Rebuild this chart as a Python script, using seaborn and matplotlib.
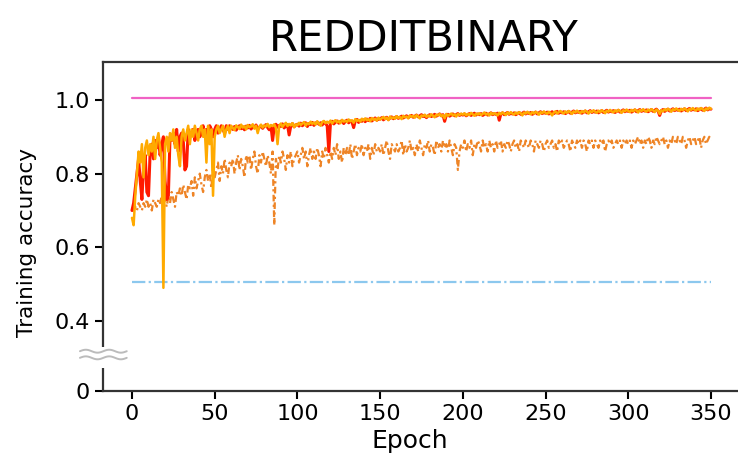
import numpy as np
import pandas as pd
import seaborn as sns
import matplotlib.pyplot as plt
from matplotlib.patches import Rectangle

# training accuracy per epoch
epochs = np.arange(351)

upper_bound = 1.005     # magenta reference line
random_baseline = 0.505  # light blue dash-dot line

acc_red = [
    .70, .72, .76, .80, .84, .78, .73, .82, .85, .75,
    .74, .86, .88, .84, .89, .87, .90, .85, .88, .90,
    .78, .73, .74, .90, .89, .91, .88, .92, .86, .90,
    .91, .89, .81, .82, .92, .90, .91, .92, .89, .91,
    .92, .90, .91, .93, .90, .92, .91, .93, .92, .90,
    .92, .93, .91, .92, .93, .92, .91, .93, .92, .93,
    .925, .920, .928, .918, .926, .930, .922, .927, .919, .929,
    .924, .931, .921, .928, .925, .932, .920, .926, .930, .923,
    .929, .933, .925, .919, .930, .890, .927, .934, .926, .931,
    .928, .935, .924, .930, .933, .905, .929, .936, .927, .932,
    .934, .929, .937, .930, .935, .938, .928, .936, .933, .939,
    .931, .937, .940, .934, .938, .932, .941, .936, .930, .860,
    .939, .942, .935, .940, .943, .937, .941, .944, .936, .942,
    .945, .938, .943, .940, .925, .944, .947, .939, .945, .942,
    .946, .941, .948, .944, .950, .943, .947, .951, .945, .949,
    .948, .952, .946, .950, .953, .947, .951, .954, .949, .952,
    .955, .950, .953, .956, .951, .954, .957, .952, .955, .958,
    .953, .956, .959, .954, .957, .960, .955, .958, .952, .957,
    .960, .955, .958, .961, .956, .959, .962, .957, .960, .942,
    .958, .961, .956, .959, .962, .957, .960, .963, .958, .961,
    .959, .962, .957, .960, .963, .958, .961, .964, .959, .962,
    .960, .963, .958, .961, .964, .959, .962, .965, .960, .963,
    .961, .964, .945, .962, .965, .960, .963, .966, .961, .964,
    .962, .965, .960, .963, .966, .961, .964, .967, .962, .965,
    .963, .966, .961, .964, .967, .962, .965, .968, .963, .966,
    .964, .967, .962, .965, .968, .963, .966, .969, .964, .967,
    .965, .968, .963, .966, .969, .964, .967, .970, .965, .968,
    .966, .969, .964, .967, .970, .965, .968, .971, .966, .969,
    .967, .970, .965, .968, .971, .966, .969, .972, .967, .970,
    .968, .971, .966, .969, .972, .967, .970, .973, .968, .971,
    .969, .972, .967, .970, .973, .968, .971, .974, .969, .972,
    .970, .973, .968, .971, .974, .969, .972, .975, .970, .958,
    .971, .974, .969, .972, .975, .970, .973, .976, .971, .974,
    .972, .975, .970, .973, .976, .971, .974, .977, .972, .975,
    .973, .976, .971, .974, .977, .972, .975, .978, .973, .976,
    .975,
]

acc_orange = [
    .68, .66, .74, .80, .86, .83, .88, .79, .87, .89,
    .85, .88, .86, .90, .84, .89, .91, .87, .83, .49,
    .88, .90, .86, .91, .89, .92, .87, .90, .85, .82,
    .90, .92, .89, .91, .93, .88, .92, .90, .93, .91,
    .89, .92, .93, .90, .92, .83, .93, .88, .92, .74,
    .90, .92, .93, .91, .92, .93, .90, .92, .93, .91,
    .930, .924, .918, .931, .927, .921, .933, .925, .929, .920,
    .932, .926, .928, .934, .922, .930, .910, .927, .933, .925,
    .931, .928, .935, .926, .932, .929, .934, .924, .880, .930,
    .936, .927, .933, .938, .929, .935, .931, .937, .926, .934,
    .931, .938, .932, .936, .940, .930, .937, .934, .941, .935,
    .939, .933, .942, .936, .930, .940, .943, .937, .941, .938,
    .944, .936, .942, .945, .939, .943, .937, .946, .941, .944,
    .940, .947, .942, .945, .938, .948, .943, .946, .941, .949,
    .944, .950, .945, .948, .942, .951, .946, .949, .944, .952,
    .947, .950, .954, .948, .952, .945, .955, .950, .953, .949,
    .956, .951, .954, .948, .957, .953, .955, .950, .958, .954,
    .957, .952, .959, .955, .950, .958, .956, .960, .954, .958,
    .955, .961, .957, .953, .960, .958, .962, .956, .959, .950,
    .962, .957, .960, .963, .958, .961, .955, .962, .959, .963,
    .960, .964, .958, .962, .959, .965, .961, .957, .963, .960,
    .964, .959, .962, .966, .960, .963, .958, .965, .961, .964,
    .962, .958, .965, .961, .966, .963, .959, .966, .962, .967,
    .963, .960, .966, .962, .967, .964, .958, .966, .963, .968,
    .964, .961, .967, .963, .968, .965, .960, .967, .964, .969,
    .965, .962, .968, .964, .958, .966, .969, .963, .967, .970,
    .966, .963, .969, .965, .970, .967, .962, .969, .966, .971,
    .967, .964, .970, .966, .971, .968, .963, .970, .967, .972,
    .968, .965, .971, .967, .972, .969, .964, .971, .968, .973,
    .969, .966, .972, .968, .973, .970, .965, .972, .969, .974,
    .970, .967, .973, .969, .974, .971, .966, .973, .970, .975,
    .971, .968, .974, .970, .975, .972, .967, .974, .971, .962,
    .972, .969, .975, .971, .976, .973, .968, .975, .972, .977,
    .973, .970, .976, .972, .977, .974, .969, .976, .973, .978,
    .974, .971, .977, .973, .978, .975, .970, .977, .974, .979,
    .976,
]

acc_dashed = [
    .70, .70, .71, .70, .72, .71, .70, .72, .71, .73,
    .71, .72, .70, .73, .72, .71, .73, .72, .74, .72,
    .73, .71, .74, .72, .75, .73, .71, .75, .74, .76,
    .74, .77, .75, .73, .77, .76, .78, .74, .79, .76,
    .78, .80, .77, .75, .79, .81, .78, .80, .76, .82,
    .79, .81, .83, .78, .82, .80, .84, .81, .79, .83,
    .82, .84, .80, .83, .85, .81, .84, .82, .79, .85,
    .83, .85, .81, .84, .86, .82, .80, .85, .83, .86,
    .84, .82, .85, .83, .80, .86, .66, .84, .81, .85,
    .83, .86, .84, .81, .85, .83, .86, .82, .84, .85,
    .86, .83, .85, .87, .84, .86, .82, .85, .87, .84,
    .86, .84, .87, .85, .82, .86, .84, .87, .85, .83,
    .86, .84, .87, .85, .88, .84, .86, .83, .87, .85,
    .87, .85, .88, .84, .86, .88, .85, .87, .86, .88,
    .85, .87, .86, .88, .84, .87, .85, .88, .86, .87,
    .86, .88, .85, .87, .89, .86, .84, .88, .87, .86,
    .88, .86, .87, .89, .85, .88, .86, .87, .89, .86,
    .87, .85, .88, .86, .89, .87, .85, .88, .87, .89,
    .86, .88, .87, .85, .89, .87, .88, .86, .89, .87,
    .88, .86, .89, .87, .85, .88, .87, .81, .86, .88,
    .87, .89, .86, .88, .87, .89, .85, .88, .87, .89,
    .88, .86, .89, .87, .88, .86, .89, .87, .88, .86,
    .89, .87, .88, .89, .86, .88, .87, .89, .88, .86,
    .88, .89, .87, .88, .86, .89, .88, .87, .89, .88,
    .87, .89, .88, .86, .89, .88, .87, .89, .88, .86,
    .88, .89, .87, .88, .89, .87, .88, .86, .89, .88,
    .89, .87, .88, .89, .88, .86, .89, .88, .87, .89,
    .88, .89, .87, .89, .88, .86, .89, .88, .89, .87,
    .89, .88, .87, .89, .88, .89, .86, .88, .89, .88,
    .89, .87, .88, .89, .88, .89, .87, .89, .88, .89,
    .88, .89, .87, .89, .88, .89, .90, .88, .89, .87,
    .89, .88, .90, .89, .87, .89, .88, .90, .89, .88,
    .89, .90, .88, .89, .87, .89, .88, .90, .89, .88,
    .90, .89, .88, .90, .89, .87, .89, .90, .88, .89,
    .90, .88, .89, .90, .87, .89, .90, .88, .89, .90,
    .89,
]

xticks = [0, 50, 100, 150, 200, 250, 300, 350]
yticks = [0.21, 0.4, 0.6, 0.8, 1.0]
ytick_labels = ["0", "0.4", "0.6", "0.8", "1.0"]

df = pd.DataFrame({
    "epoch": epochs,
    "red": acc_red,
    "orange": acc_orange,
    "dashed": acc_dashed,
})

sns.set_style("ticks")
plt.rcParams["font.family"] = ["DejaVu Sans"]
plt.rcParams["text.color"] = "black"
plt.rcParams["axes.labelcolor"] = "black"

fig = plt.figure(figsize=(7.38, 4.62), dpi=100)
ax = fig.add_axes([0.1396, 0.1537, 0.8686, 0.7121])

ends = [epochs[0], epochs[-1]]
sns.lineplot(x=ends, y=[random_baseline] * 2, ax=ax, color="#8cc8ee",
             lw=1.6, ls=(0, (6, 1.5, 1, 1.5)))
sns.lineplot(x=ends, y=[upper_bound] * 2, ax=ax, color="#f062c4", lw=1.6)
sns.lineplot(data=df, x="epoch", y="dashed", ax=ax, color="#ee8426",
             lw=1.6, ls=(0, (3, 1.5, 1, 1.5)))
sns.lineplot(data=df, x="epoch", y="red", ax=ax, color="#ff1a00", lw=2.2)
sns.lineplot(data=df, x="epoch", y="orange", ax=ax, color="#ffaa00", lw=1.8)

ax.set_xlim(-17.5, 370)
ax.set_ylim(0.21, 1.103)
ax.set_xticks(xticks)
ax.set_yticks(yticks)
ax.set_yticklabels(ytick_labels)
ax.tick_params(labelsize=16, length=6, width=1.5, colors="black")

for side in ["left", "bottom", "top", "right"]:
    ax.spines[side].set_linewidth(1.6)
    ax.spines[side].set_color("#333333")

# axis break on the y spine
gap = Rectangle((-0.02, 0.272), 0.04, 0.057, transform=ax.get_yaxis_transform(),
                facecolor="white", edgecolor="none", clip_on=False, zorder=5)
ax.add_patch(gap)
wx = np.linspace(-0.036, 0.037, 60)
wave = 0.004 * np.sin((wx + 0.036) / 0.073 * 4 * np.pi)
for y0 in [0.318, 0.300]:
    ax.plot(wx, y0 + wave, transform=ax.get_yaxis_transform(), color="#bbbbbb",
            lw=1.4, clip_on=False, zorder=6)

ax.set_xlabel("Epoch", fontsize=18)
ax.set_ylabel("Training accuracy", fontsize=15.5)
ax.xaxis.set_label_coords(0.479, -0.115)
ax.yaxis.set_label_coords(-0.103, 0.45)
ax.set_title("REDDITBINARY", fontsize=30, pad=8, color="black")

fig.savefig("out.png", dpi=100)
